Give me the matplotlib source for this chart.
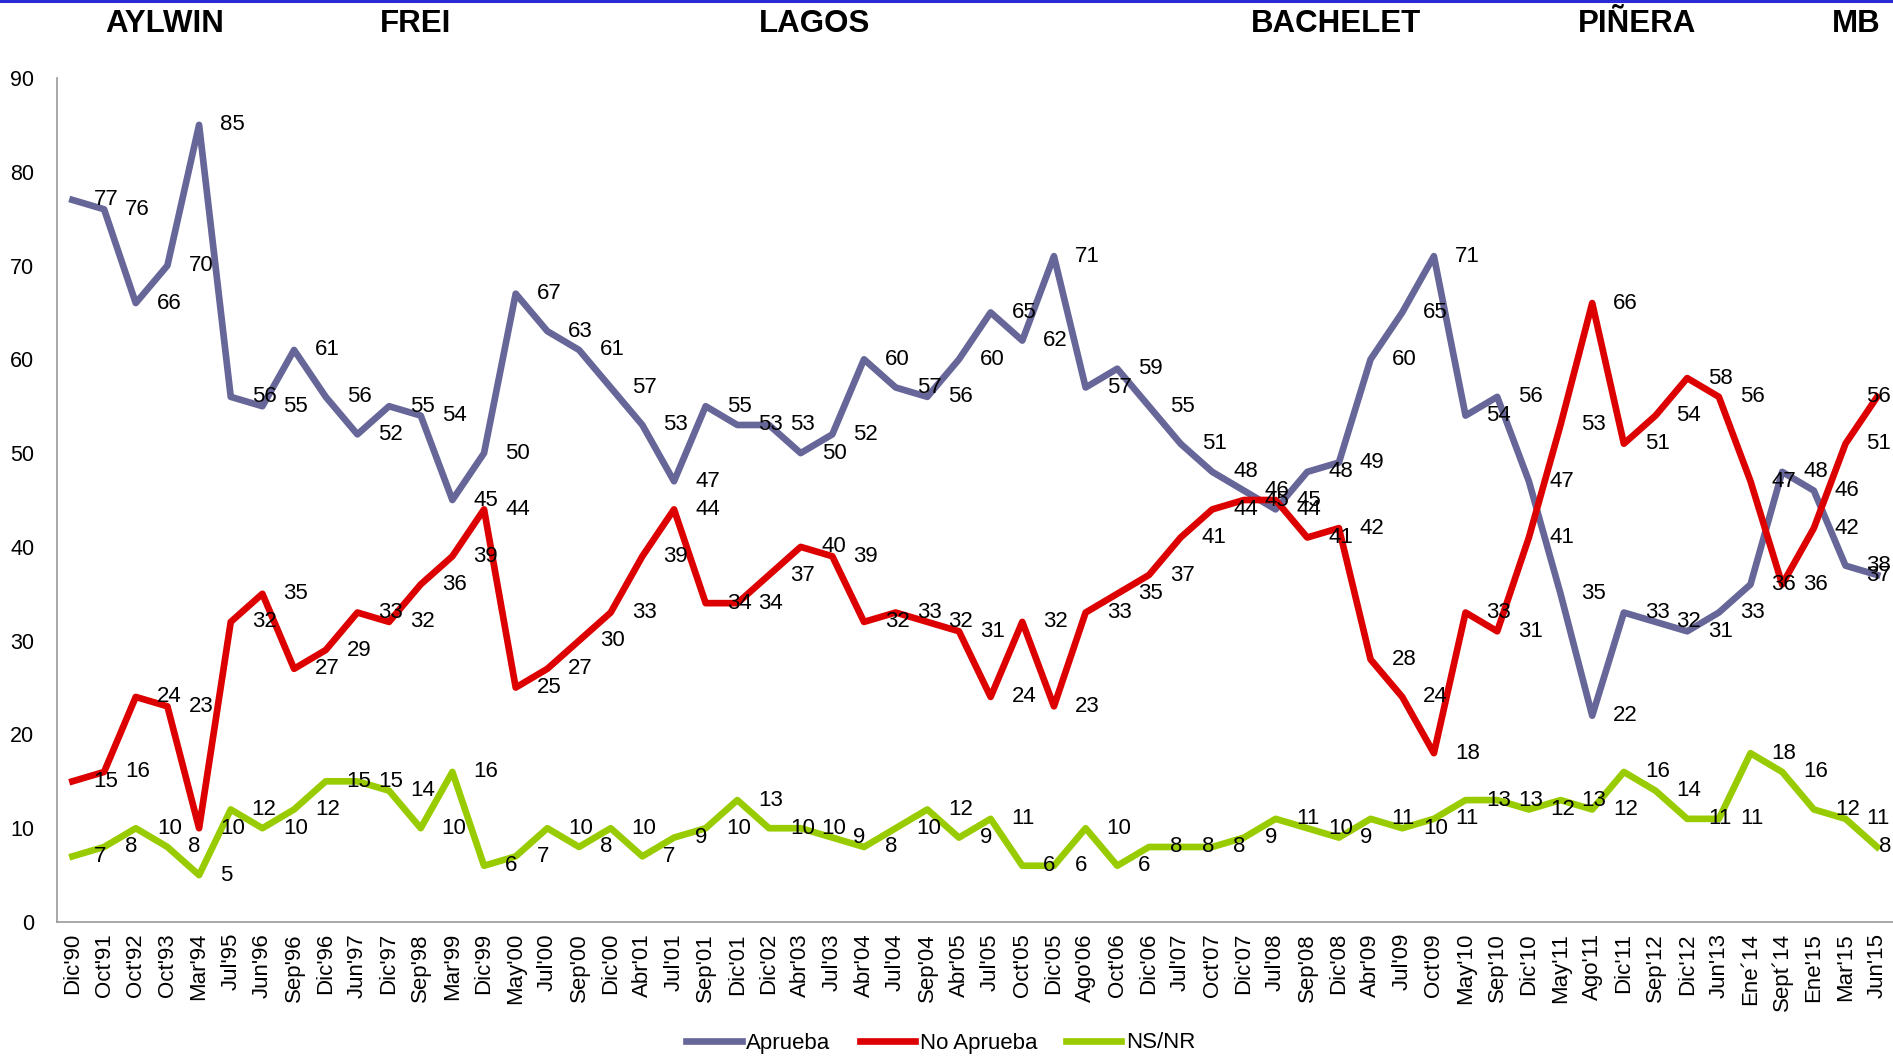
import numpy as np
import matplotlib.pyplot as plt
from matplotlib.lines import Line2D

plt.rcParams['font.family'] = ['Liberation Sans', 'DejaVu Sans']

# fechas de las encuestas
fechas = ["Dic'90", "Oct'91", "Oct'92", "Oct'93", "Mar'94", "Jul'95", "Jun'96", "Sep'96",
          "Dic'96", "Jun'97", "Dic'97", "Sep'98", "Mar'99", "Dic'99", "May'00", "Jul'00",
          "Sep'00", "Dic'00", "Abr'01", "Jul'01", "Sep'01", "Dic'01", "Dic'02", "Abr'03",
          "Jul'03", "Abr'04", "Jul'04", "Sep'04", "Abr'05", "Jul'05", "Oct'05", "Dic'05",
          "Ago'06", "Oct'06", "Dic'06", "Jul'07", "Oct'07", "Dic'07", "Jul'08", "Sep'08",
          "Dic'08", "Abr'09", "Jul'09", "Oct'09", "May'10", "Sep'10", "Dic'10", "May'11",
          "Ago'11", "Dic'11", "Sep'12", "Dic'12", "Jun'13", "Ene´14", "Sept´14", "Ene'15",
          "Mar'15", "Jun'15"]

aprueba = [77, 76, 66, 70, 85, 56, 55, 61, 56, 52, 55, 54, 45, 50, 67, 63, 61, 57, 53, 47,
           55, 53, 53, 50, 52, 60, 57, 56, 60, 65, 62, 71, 57, 59, 55, 51, 48, 46, 44, 48,
           49, 60, 65, 71, 54, 56, 47, 35, 22, 33, 32, 31, 33, 36, 48, 46, 38, 37]

no_aprueba = [15, 16, 24, 23, 10, 32, 35, 27, 29, 33, 32, 36, 39, 44, 25, 27, 30, 33, 39, 44,
              34, 34, 37, 40, 39, 32, 33, 32, 31, 24, 32, 23, 33, 35, 37, 41, 44, 45, 45, 41,
              42, 28, 24, 18, 33, 31, 41, 53, 66, 51, 54, 58, 56, 47, 36, 42, 51, 56]

nsnr = [7, 8, 10, 8, 5, 12, 10, 12, 15, 15, 14, 10, 16, 6, 7, 10, 8, 10, 7, 9,
        10, 13, 10, 10, 9, 8, 10, 12, 9, 11, 6, 6, 10, 6, 8, 8, 8, 9, 11, 10,
        9, 11, 10, 11, 13, 13, 12, 13, 12, 16, 14, 11, 11, 18, 16, 12, 11, 8]

presidentes = ["AYLWIN", "FREI", "LAGOS", "BACHELET", "PIÑERA", "MB"]
pos_pres = [165, 416, 815, 1336, 1637, 1856]  # centro en pixeles

series = [("Aprueba", aprueba, "#666699"),
          ("No Aprueba", no_aprueba, "#DD0000"),
          ("NS/NR", nsnr, "#99CC00")]

W, H = 1893, 1060
fig = plt.figure(figsize=(W / 100, H / 100), dpi=100)
ax = fig.add_axes([56.6 / W, 1 - 922 / H, 1 - 56.6 / W, (922 - 78) / H])

x = np.arange(len(fechas))
for nombre, vals, col in series:
    ax.plot(x, vals, color=col, lw=4.8, label=nombre, zorder=2)

# etiquetas de datos a la derecha de cada punto
for nombre, vals, col in series:
    for i, v in enumerate(vals):
        if i == len(vals) - 1:
            ax.annotate(str(v), (i, v), xytext=(14, 0), textcoords='offset pixels',
                        ha='right', va='center', fontsize=16, zorder=5)
        else:
            ax.annotate(str(v), (i, v), xytext=(21, 0), textcoords='offset pixels',
                        ha='left', va='center', fontsize=16, zorder=5)

ax.set_xlim(-0.5, len(fechas) - 0.5)
ax.set_ylim(0, 90)
ax.set_yticks(range(0, 91, 10))
ax.set_xticks(x)
ax.set_xticklabels(fechas, rotation=90, fontsize=16)
ax.tick_params(axis='y', length=0, pad=16, labelsize=15.5)
ax.tick_params(axis='x', length=0, pad=8)
for s in ['top', 'right']:
    ax.spines[s].set_visible(False)
for s in ['left', 'bottom']:
    ax.spines[s].set_color('#999999')
    ax.spines[s].set_linewidth(1.2)

# presidentes arriba
for nom, px in zip(presidentes, pos_pres):
    fig.text(px / W, 1 - 24 / H, nom, ha='center', va='center',
             fontsize=22.5, fontweight='bold')

# linea azul superior
fig.add_artist(Line2D([0, 1], [1 - 1 / H, 1 - 1 / H], color='#2b2bd6', lw=2.2))

fig.legend(loc='center', bbox_to_anchor=(0.497, 1 - 1043 / H), ncol=3, frameon=False,
           fontsize=16, handlelength=2.5, handletextpad=0.2, columnspacing=1.3)

fig.savefig('out.png', dpi=100)
